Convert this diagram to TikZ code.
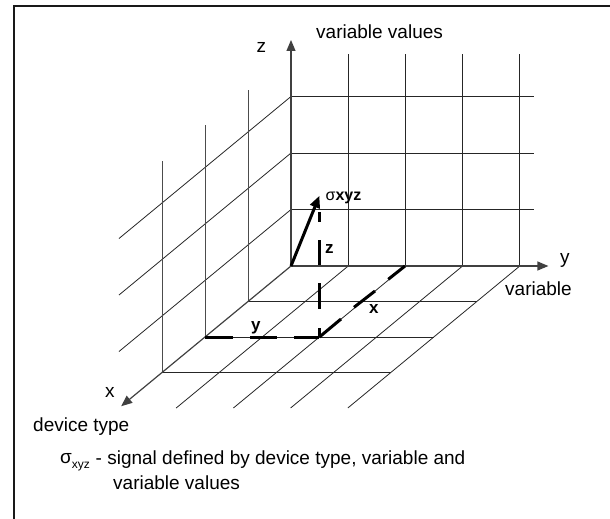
\documentclass[tikz,border=0pt]{standalone}
\usepackage{fontspec}
\setmainfont{Liberation Sans}
\usetikzlibrary{arrows.meta}
\begin{document}
\begin{tikzpicture}[x=1pt,y=1pt,
  grid/.style={line width=0.8pt, black!85},
  axisline/.style={line width=1.2pt, black!75, -{Triangle[length=11pt,width=9pt]}},
  bolddash/.style={line width=3pt, black},
  lbl/.style={font=\fontsize{19}{22}\selectfont, inner sep=0pt, anchor=base west},
  blbl/.style={font=\fontsize{17}{20}\selectfont\bfseries, inner sep=0pt, anchor=base west}]
\useasboundingbox (0,-519) rectangle (610,0);
\draw[line width=2pt, black!90] (14,-519) -- (14,-6.5) -- (610,-6.5);
\begin{scope}[shift={(291,-266)}, x={(-43pt,-35.5pt)}, y={(57.2pt,0pt)}, z={(0pt,56.5pt)}]
  \coordinate (O) at (0,0,0);
  \foreach \k in {1,2,3} {
    \draw[grid] (0,0,\k) -- (0,4.25,\k);
    \draw[grid] (0,0,\k) -- (4,0,\k);
  }
  \foreach \j in {1,2,3,4} {
    \draw[grid] (0,\j,0) -- (0,\j,3.75);
    \draw[grid] (0,\j,0) -- (4,\j,0);
  }
  \foreach \i in {1,2,3} {
    \draw[grid, black!70] (\i,0,0) -- (\i,0,3.75);
    \draw[grid] (\i,0,0) -- (\i,4,0);
  }
  \coordinate (ztip) at (0,0,4);
  \coordinate (ytip) at (0,4.5,0);
  \coordinate (xtip) at (3.95,0,0);
  \draw[axisline] (O) -- (ztip);
  \draw[axisline] (O) -- (ytip);
  \draw[axisline] (O) -- (xtip);
  \coordinate (S) at (2,2,2.5);
\end{scope}
% signal vector
\draw[line width=3pt, -{Triangle[length=12pt,width=10pt]}] (O) -- (S);
% dashed projections
\draw[bolddash] (319.4,-212) -- (319.4,-222);
\draw[bolddash] (319.4,-240) -- (319.4,-265);
\draw[bolddash] (319.4,-283) -- (319.4,-309);
\draw[bolddash] (319.4,-328) -- (319.4,-337);
\draw[bolddash] (205,-337) -- (233,-337);
\draw[bolddash] (250,-337) -- (277,-337);
\draw[bolddash] (294,-337) -- (319.4,-337);
\draw[bolddash] (319.4,-337) -- (341,-319);
\draw[bolddash] (354,-307.3) -- (375,-291);
\draw[bolddash] (388.3,-279.3) -- (405,-266);
% labels
\node[lbl] (lz) at (256.5,-52.5) {z};
\node[lbl] (lzt) at (316,-38.5) {variable values};
\node[lbl] (ly) at (560,-263) {y};
\node[lbl] (lyt) at (505,-295) {variable};
\node[lbl] (lx) at (105,-397) {x};
\node[lbl] (lxt) at (33,-431) {device type};
\node[blbl] (bz) at (325,-253.5) {z};
\node[blbl] (by) at (251,-330.5) {y};
\node[blbl] (bx) at (369,-313.5) {x};
\node[inner sep=0pt, anchor=base west, font=\fontsize{16}{18}\selectfont] (sig) at (325.5,-200) {σ\textbf{xyz}};
\node[lbl] (leg1) at (60,-463) {σ\raisebox{-5pt}{\fontsize{12}{14}\selectfont xyz}};
\node[lbl] (leg2) at (95.5,-464) {- signal defined by device type, variable and};
\node[lbl] (leg3) at (113,-489) {variable values};
\end{tikzpicture}
\end{document}
